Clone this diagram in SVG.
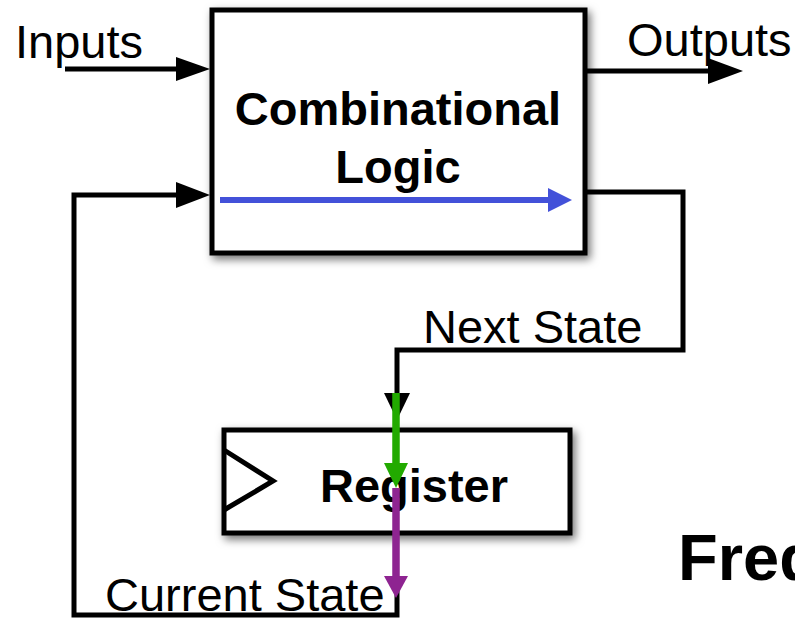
<svg xmlns="http://www.w3.org/2000/svg" width="795" height="621" viewBox="0 0 795 621">
  <defs>
    <filter id="shadow" x="-10%" y="-10%" width="130%" height="140%">
      <feDropShadow dx="3" dy="4" stdDeviation="4" flood-color="#000" flood-opacity="0.55"/>
    </filter>
  </defs>
  <style>
    .box { fill: #fff; stroke: #000; stroke-width: 5; }
    .wire { fill: none; stroke: #000; stroke-width: 5; }
    .lbl { font-family: "Liberation Sans", Arial, sans-serif; font-size: 47px; fill: #000; }
    .bold { font-family: "Liberation Sans", Arial, sans-serif; font-size: 47px; font-weight: bold; fill: #000; }
  </style>
  <rect width="795" height="621" fill="#fff"/>

  <g id="combinational-logic">
    <rect class="box" x="212" y="10" width="373" height="243" filter="url(#shadow)"/>
    <text class="bold" x="398" y="125" text-anchor="middle">Combinational</text>
    <text class="bold" x="398" y="183" text-anchor="middle">Logic</text>
  </g>

  <g id="register">
    <rect class="box" x="224" y="430" width="346" height="103" filter="url(#shadow)"/>
    <polyline class="wire" points="224,450 273,481 224,510"/>
    <text class="bold" x="414" y="502" text-anchor="middle">Register</text>
  </g>

  <g id="connectors">
    <!-- Inputs -->
    <path class="wire" d="M65,69 H180"/>
    <polygon points="176,57 210,69 176,81" fill="#000"/>
    <!-- Outputs -->
    <path class="wire" d="M587,71 H712"/>
    <polygon points="708,58 743,71 708,84" fill="#000"/>
    <!-- Next state -->
    <path class="wire" d="M587,192 H683 V350 H397 V396"/>
    <polygon points="384,393 397,420 410,393" fill="#000"/>
    <!-- Current state -->
    <path class="wire" d="M397,590 V615 H74 V195 H180"/>
    <polygon points="176,182 210,195 176,208" fill="#000"/>
    <!-- Blue path -->
    <path d="M220,200 H552" stroke="#4351d9" stroke-width="6" fill="none"/>
    <polygon points="548,188 572,200 548,212" fill="#4351d9"/>
    <!-- Green -->
    <path d="M396,393 V466" stroke="#22aa00" stroke-width="7.5" fill="none"/>
    <polygon points="384,463 396,488 408,463" fill="#22aa00"/>
    <!-- Purple -->
    <path d="M396,488 V579" stroke="#8e2491" stroke-width="7.5" fill="none"/>
    <polygon points="384,576 396,598 408,576" fill="#8e2491"/>
  </g>

  <g id="labels">
    <text class="lbl" x="15" y="58">Inputs</text>
    <text class="lbl" x="627" y="56">Outputs</text>
    <text class="lbl" x="423" y="343">Next State</text>
    <text class="lbl" x="105" y="611">Current State</text>
    <text class="bold" x="678" y="580" style="font-size:65px">Freq</text>
  </g>
</svg>
